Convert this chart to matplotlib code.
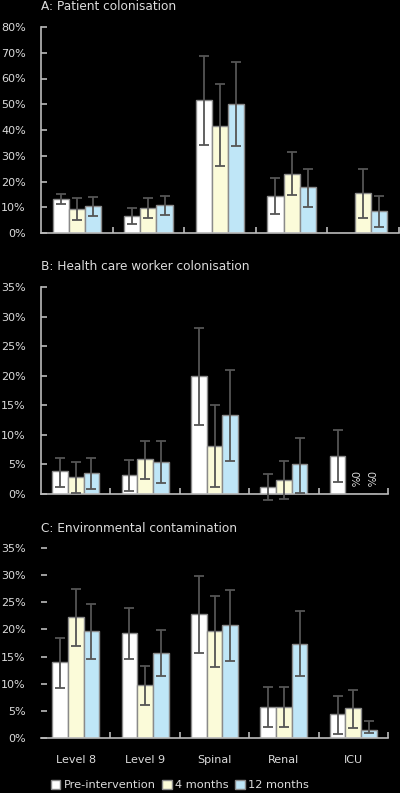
import numpy as np
import matplotlib
matplotlib.use("Agg")
import matplotlib.pyplot as plt
from matplotlib.patches import Patch

categories = ["Level 8", "Level 9", "Spinal", "Renal", "ICU"]
series = ["Pre-intervention", "4 months", "12 months"]

# Panel A: Patient colonisation (%)
a_pre = [13.2, 6.7, 51.8, 14.5, 0.0]
a_pre_lo = [11.1, 3.6, 34.0, 7.5, np.nan]
a_pre_hi = [15.3, 9.7, 68.9, 21.2, np.nan]
a_4m = [9.4, 9.7, 41.7, 23.0, 15.7]
a_4m_lo = [5.2, 6.0, 25.9, 14.9, 6.0]
a_4m_hi = [13.6, 13.6, 57.7, 31.3, 24.7]
a_12m = [10.6, 11.0, 50.2, 18.0, 8.7]
a_12m_lo = [6.5, 7.1, 33.8, 10.2, 2.3]
a_12m_hi = [14.0, 14.4, 66.3, 24.7, 14.4]

# Panel B: Health care worker colonisation (%)
b_pre = [3.9, 3.2, 19.9, 1.1, 6.4]
b_pre_lo = [1.2, 0.45, 11.6, -1.0, 2.1]
b_pre_hi = [6.1, 5.7, 28.0, 3.3, 10.8]
b_4m = [2.8, 5.9, 8.2, 2.4, 0.0]
b_4m_lo = [0.2, 2.5, 1.2, -0.8, np.nan]
b_4m_hi = [5.4, 9.0, 15.0, 5.6, np.nan]
b_12m = [3.5, 5.4, 13.4, 5.0, 0.0]
b_12m_lo = [0.8, 1.9, 5.5, 0.2, np.nan]
b_12m_hi = [6.1, 8.9, 20.9, 9.4, np.nan]

# Panel C: Environmental contamination (%)
c_pre = [14.0, 19.3, 22.8, 5.7, 4.4]
c_pre_lo = [9.3, 14.5, 15.7, 2.0, 0.8]
c_pre_hi = [18.4, 23.9, 29.8, 9.4, 7.7]
c_4m = [22.3, 9.8, 19.7, 5.7, 5.5]
c_4m_lo = [16.9, 6.1, 13.0, 2.0, 1.8]
c_4m_hi = [27.4, 13.3, 26.1, 9.4, 8.8]
c_12m = [19.7, 15.7, 20.8, 17.4, 1.4]
c_12m_lo = [14.6, 11.4, 14.1, 11.4, 1.0]
c_12m_hi = [24.7, 19.9, 27.3, 23.4, 3.1]

titles = ["A: Patient colonisation", "B: Health care worker colonisation",
          "C: Environmental contamination"]
a_ticks = [0, 10, 20, 30, 40, 50, 60, 70, 80]
bc_ticks = [0, 5, 10, 15, 20, 25, 30, 35]

colors = ["#ffffff", "#fbfbd9", "#bfe6f7"]
edge = "#8a8a8a"
txt = "#dcdcdc"
errc = "#555555"

W, H = 400, 793
fig = plt.figure(figsize=(W / 100, H / 100), dpi=100, facecolor="black")

def fpos(l, r, top, bot):
    return [l / W, 1 - bot / H, (r - l) / W, (bot - top) / H]

panels = [
    dict(pos=fpos(41, 399, 27, 233), ymax=80, ticks=a_ticks,
         data=[(a_pre, a_pre_lo, a_pre_hi), (a_4m, a_4m_lo, a_4m_hi), (a_12m, a_12m_lo, a_12m_hi)],
         title=titles[0], ty=7, spine=True, xlabels=False),
    dict(pos=fpos(41, 388, 287, 494), ymax=35, ticks=bc_ticks,
         data=[(b_pre, b_pre_lo, b_pre_hi), (b_4m, b_4m_lo, b_4m_hi), (b_12m, b_12m_lo, b_12m_hi)],
         title=titles[1], ty=267, spine=True, xlabels=False),
    dict(pos=fpos(41, 388, 548, 738), ymax=35, ticks=bc_ticks,
         data=[(c_pre, c_pre_lo, c_pre_hi), (c_4m, c_4m_lo, c_4m_hi), (c_12m, c_12m_lo, c_12m_hi)],
         title=titles[2], ty=529, spine=False, xlabels=True),
]

x = np.arange(len(categories))
bw = 0.225
offs = [-bw, 0, bw]

axes = []
for p in panels:
    ax = fig.add_axes(p["pos"])
    ax.set_facecolor("black")
    axes.append(ax)
    for k, (vals, lo, hi) in enumerate(p["data"]):
        vals = np.array(vals, float)
        lo = np.array(lo, float)
        hi = np.array(hi, float)
        ax.bar(x + offs[k], vals, bw, color=colors[k], edgecolor=edge, linewidth=1.0, zorder=2)
        yerr = np.vstack([vals - lo, hi - vals])
        ax.errorbar(x + offs[k], vals, yerr=yerr, fmt="none", ecolor=errc,
                    elinewidth=1.3, capsize=3.5, capthick=1.3, zorder=3, clip_on=False)
    ax.set_xlim(-0.5, len(categories) - 0.5)
    ax.set_ylim(0, p["ymax"])
    ax.set_yticks(p["ticks"])
    ax.set_yticklabels([f"{t}%" for t in p["ticks"]])
    ax.tick_params(axis="y", direction="in", length=4, width=1.2, color="#bbbbbb",
                   labelcolor=txt, labelsize=8, pad=11)
    ax.set_xticks(x)
    if p["xlabels"]:
        ax.set_xticklabels(categories)
    else:
        ax.set_xticklabels([])
    ax.tick_params(axis="x", which="major", length=0, labelcolor=txt, labelsize=8, pad=12)
    ax.set_xticks(np.arange(len(categories)) + 0.5, minor=True)
    ax.tick_params(axis="x", which="minor", direction="in", length=4, width=1.2, color="#bbbbbb")
    for s in ["top", "right"]:
        ax.spines[s].set_visible(False)
    ax.spines["bottom"].set_color("#bbbbbb")
    ax.spines["bottom"].set_linewidth(1.2)
    ax.spines["left"].set_color("#bbbbbb")
    ax.spines["left"].set_linewidth(1.2)
    ax.spines["left"].set_visible(p["spine"])
    fig.text(41 / W, 1 - p["ty"] / H, p["title"], color=txt, fontsize=8.7,
             ha="left", va="center")

# 0% labels in panel B for ICU 4 months and 12 months
axb = axes[1]
for k, v in ((1, b_4m[4]), (2, b_12m[4])):
    if v == 0:
        axb.text(x[4] + offs[k], 1.2, "0%", rotation=270, color=txt, fontsize=7.5,
                 ha="center", va="bottom")

handles = [Patch(facecolor=c, edgecolor=edge, linewidth=1.0) for c in colors]
leg = fig.legend(handles, series, loc="center", bbox_to_anchor=(180 / W, 1 - 785 / H),
                 ncol=3, frameon=False, fontsize=8.2, handlelength=0.8, handleheight=0.8,
                 handletextpad=0.3, columnspacing=0.6, borderpad=0)
for t in leg.get_texts():
    t.set_color(txt)

fig.savefig("out.png", dpi=100, facecolor="black")
